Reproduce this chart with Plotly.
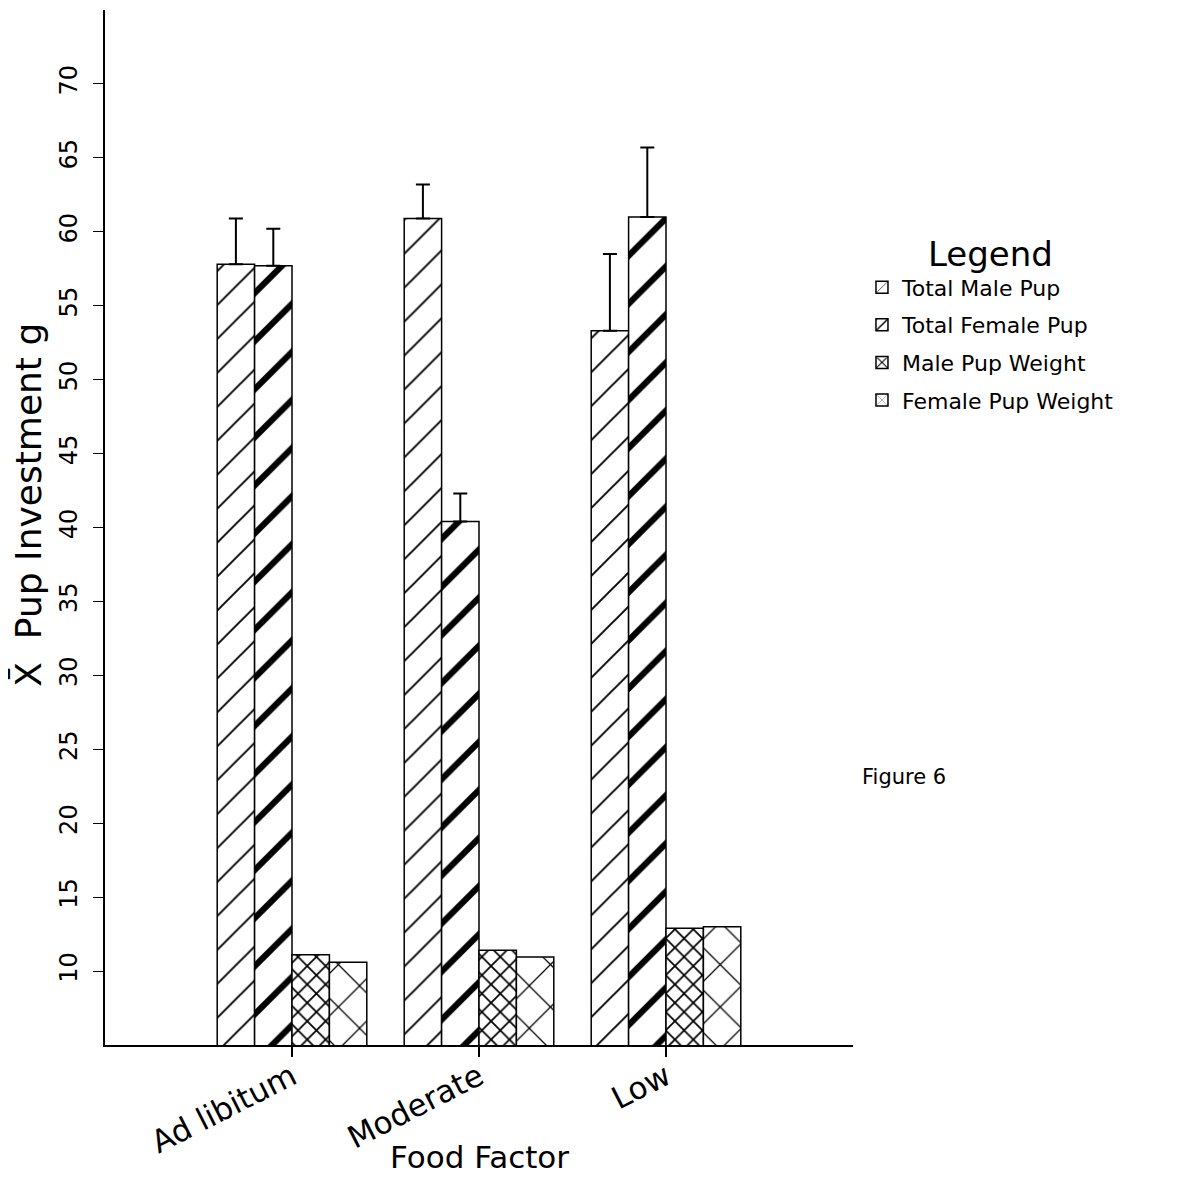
import plotly.graph_objects as go

categories = ["Ad libitum", "Moderate", "Low"]
series_names = ["Total Male Pup", "Total Female Pup", "Male Pup Weight", "Female Pup Weight"]
total_male = [57.8, 60.9, 53.3]
total_male_err = [3.1, 2.3, 5.2]
total_female = [57.7, 40.4, 61.0]
total_female_err = [2.5, 1.9, 4.7]
male_pup_weight = [11.1, 11.4, 12.9]
female_pup_weight = [10.6, 10.95, 13.0]
y_ticks = [10, 15, 20, 25, 30, 35, 40, 45, 50, 55, 60, 65, 70]

FONT = "DejaVu Sans"

values = [total_male, total_female, male_pup_weight, female_pup_weight]
errors = [total_male_err, total_female_err, None, None]
patterns = [
    dict(shape="/", size=24, solidity=0.08),
    dict(shape="/", size=34, solidity=0.18),
    dict(shape="x", size=13, solidity=0.25),
    dict(shape="x", size=30, solidity=0.08),
]

fig = go.Figure()
for i, (name, vals, err, pat) in enumerate(zip(series_names, values, errors, patterns)):
    kw = {}
    if err is not None:
        kw["error_y"] = dict(type="data", array=err, arrayminus=[0] * len(err),
                             symmetric=False, color="black", thickness=2, width=7)
    fig.add_trace(go.Bar(
        name=name, x=categories, y=vals, legendgroup="g%d" % i,
        marker=dict(color="white",
                    line=dict(color="black", width=1.5),
                    pattern=dict(fgcolor="black", bgcolor="white", fillmode="replace", **pat)),
        **kw))

fig.update_layout(
    width=1189, height=1203,
    paper_bgcolor="white", plot_bgcolor="white",
    barmode="group", bargap=0.2, bargroupgap=0.0,
    margin=dict(l=97, r=344, t=2, b=166, autoexpand=False),
    font=dict(family=FONT, color="black"),
    xaxis=dict(
        type="category", range=[-1, 3], automargin=False,
        showline=True, linecolor="black", linewidth=1.5,
        ticks="outside", ticklen=10, tickcolor="black", tickwidth=1.5,
        tickangle=-27, tickfont=dict(size=31, family=FONT),
        ticklabelstandoff=-10,
        showgrid=False, zeroline=False,
    ),
    yaxis=dict(
        range=[5, 75], tickvals=y_ticks, automargin=False,
        showline=True, linecolor="black", linewidth=1.5,
        ticks="outside", ticklen=10, tickcolor="black", tickwidth=1,
        tickangle=-90, tickfont=dict(size=24, family=FONT),
        ticklabelstandoff=7,
        showgrid=False, zeroline=False,
    ),
    legend=dict(
        x=1.012, y=0.795, xanchor="left", yanchor="top",
        font=dict(size=22, family=FONT),
        title=dict(text="Legend", font=dict(size=34, family=FONT), side="top center"),
        tracegroupgap=6, itemwidth=30,
    ),
    showlegend=True,
    annotations=[
        dict(text="Figure 6", xref="paper", yref="paper", x=1.009, y=0.259,
             xanchor="left", yanchor="middle", showarrow=False,
             font=dict(size=21, family=FONT)),
        dict(text="Food Factor", xref="paper", yref="paper", x=0.5, y=-0.108,
             xanchor="center", yanchor="middle", showarrow=False,
             font=dict(size=31, family=FONT)),
        dict(text="X\u0304  Pup Investment g", xref="paper", yref="paper", x=-0.103, y=0.522,
             xanchor="center", yanchor="middle", showarrow=False, textangle=-90,
             font=dict(size=36, family=FONT)),
    ],
)

fig.write_html("out.html")
